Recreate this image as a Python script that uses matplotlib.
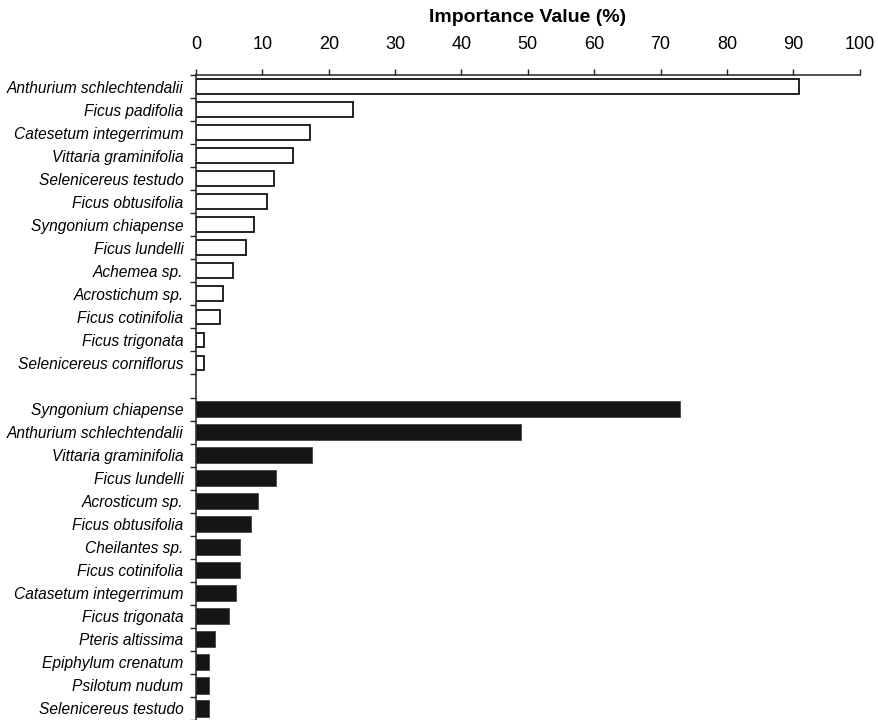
import numpy as np
import matplotlib.pyplot as plt

plt.rcParams['font.family'] = ['Liberation Sans', 'DejaVu Sans']

# group 1 (white bars)
species_a = ["Anthurium schlechtendalii", "Ficus padifolia", "Catesetum integerrimum",
             "Vittaria graminifolia", "Selenicereus testudo", "Ficus obtusifolia",
             "Syngonium chiapense", "Ficus lundelli", "Achemea sp.", "Acrostichum sp.",
             "Ficus cotinifolia", "Ficus trigonata", "Selenicereus corniflorus"]
iv_a = [90.9, 23.6, 17.2, 14.6, 11.8, 10.7, 8.8, 7.5, 5.6, 4.0, 3.6, 1.2, 1.2]

# group 2 (black bars)
species_b = ["Syngonium chiapense", "Anthurium schlechtendalii", "Vittaria graminifolia",
             "Ficus lundelli", "Acrosticum sp.", "Ficus obtusifolia", "Cheilantes sp.",
             "Ficus cotinifolia", "Catasetum integerrimum", "Ficus trigonata",
             "Pteris altissima", "Epiphylum crenatum", "Psilotum nudum",
             "Selenicereus testudo"]
iv_b = [72.9, 49.0, 17.5, 12.1, 9.4, 8.3, 6.7, 6.7, 6.1, 5.0, 2.9, 1.9, 1.9, 1.9]

xticks = np.arange(0, 101, 10)

# positions: group a, one empty slot, group b
pos_a = np.arange(len(species_a))
pos_b = np.arange(len(species_b)) + len(species_a) + 1
n_slots = len(species_a) + 1 + len(species_b)

fig = plt.figure(figsize=(8.79, 7.2), dpi=100)
ax = fig.add_axes([196 / 879, 0.0, (859.7 - 196) / 879, 1 - 75 / 720])

ax.barh(pos_a, iv_a, height=0.64, color="white", edgecolor="#111111", linewidth=1.3)
ax.barh(pos_b, iv_b, height=0.70, color="#151515", edgecolor="#444444", linewidth=0.6)

ax.set_xlim(0, 100)
ax.set_ylim(n_slots - 0.5, -0.5)

ax.xaxis.tick_top()
ax.xaxis.set_label_position("top")
ax.set_xticks(xticks)
ax.set_xticklabels([str(t) for t in xticks], fontsize=13)
ax.tick_params(axis="x", direction="out", length=4.5, width=1.0, pad=11, color="#222222")
ax.set_xlabel("Importance Value (%)", fontsize=14, fontweight="bold", labelpad=10.5)

ax.set_yticks(np.concatenate([pos_a, pos_b]))
ax.set_yticklabels(species_a + species_b, fontsize=11.2, style="italic")
ax.tick_params(axis="y", which="major", length=0, pad=9)
ax.set_yticks(np.arange(-0.5, n_slots, 1.0), minor=True)
ax.tick_params(axis="y", which="minor", direction="out", length=4.5, width=1.0, color="#222222")

for side in ["right", "bottom"]:
    ax.spines[side].set_visible(False)
for side in ["top", "left"]:
    ax.spines[side].set_linewidth(1.1)
    ax.spines[side].set_color("#222222")

fig.savefig("out.png", dpi=100)
